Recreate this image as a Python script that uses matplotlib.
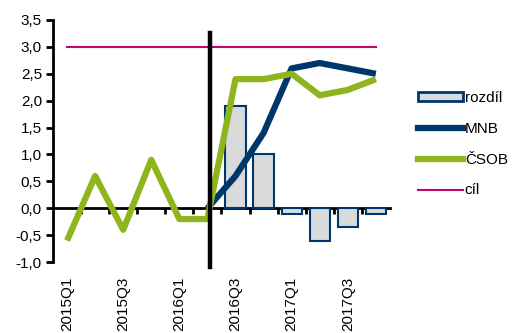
import matplotlib.pyplot as plt
from matplotlib.patches import Patch
from matplotlib.lines import Line2D

plt.rcParams['font.family'] = ['Liberation Sans', 'DejaVu Sans']

quarters = ['2015Q1', '2015Q2', '2015Q3', '2015Q4', '2016Q1', '2016Q2',
            '2016Q3', '2016Q4', '2017Q1', '2017Q2', '2017Q3', '2017Q4']
csob = [-0.6, 0.6, -0.4, 0.9, -0.2, -0.2, 2.4, 2.4, 2.5, 2.1, 2.2, 2.4]
mnb_q = quarters[5:]
mnb = [0.0, 0.6, 1.4, 2.6, 2.7, 2.6, 2.5]
diff_q = quarters[6:]
rozdil = [1.9, 1.0, -0.1, -0.6, -0.35, -0.1]
cil = 3.0

green = '#8fb51d'
navy = '#00376b'
magenta = '#c0086b'

fig = plt.figure(figsize=(5.12, 3.33), dpi=100)
ax = fig.add_axes([0.1035, 0.213, 0.658, 0.727])

x = list(range(len(quarters)))
pos = {q: i for i, q in enumerate(quarters)}

ax.bar([pos[q] for q in diff_q], rozdil, width=0.72, color='#d9dadb',
       edgecolor=navy, linewidth=1.5, zorder=2)
ax.plot([pos[q] for q in mnb_q], mnb, color=navy, lw=4.5, zorder=4,
        solid_capstyle='butt', solid_joinstyle='round')
ax.plot(x, csob, color=green, lw=4.5, zorder=5, solid_capstyle='butt',
        solid_joinstyle='round')
ax.plot([x[0], x[-1]], [cil, cil], color=magenta, lw=1.5, zorder=3)

# vertical separator
ax.plot([5.1, 5.1], [3.25, -1.1], color='black', lw=3.2, zorder=6, clip_on=False)

ax.set_xlim(-0.5, 11.5)
ax.set_ylim(-1.0, 3.5)
ax.set_yticks([-1.0, -0.5, 0, 0.5, 1.0, 1.5, 2.0, 2.5, 3.0, 3.5])
ax.set_yticklabels([f"{v:.1f}".replace('.', ',') for v in ax.get_yticks()], fontsize=11)

for s in ['top', 'right']:
    ax.spines[s].set_visible(False)
ax.spines['left'].set_linewidth(2)
ax.spines['bottom'].set_position(('data', 0))
ax.spines['bottom'].set_linewidth(2)
ax.spines['bottom'].set_zorder(1)
ax.tick_params(axis='y', direction='out', length=5, width=2, pad=3)

ax.set_xticks([i + 0.5 for i in range(11)])
ax.set_xticklabels([])
ax.tick_params(axis='x', direction='out', length=4, width=2)

for i in range(0, 12, 2):
    ax.text(i, -0.06, quarters[i], transform=ax.get_xaxis_transform(),
            rotation=90, ha='center', va='top', fontsize=11)

handles = [Patch(facecolor='#d9dadb', edgecolor=navy, linewidth=2),
           Line2D([], [], color=navy, lw=4.5),
           Line2D([], [], color=green, lw=4.5),
           Line2D([], [], color=magenta, lw=1.5)]
labels = ['rozdíl', 'MNB', 'ČSOB', 'cíl']
fig.legend(handles, labels, loc='upper left', bbox_to_anchor=(0.805, 0.745),
           frameon=False, fontsize=11, handlelength=2.9, handletextpad=0.15,
           handleheight=0.5, labelspacing=1.1, borderaxespad=0)

fig.savefig('out.png', dpi=100)
